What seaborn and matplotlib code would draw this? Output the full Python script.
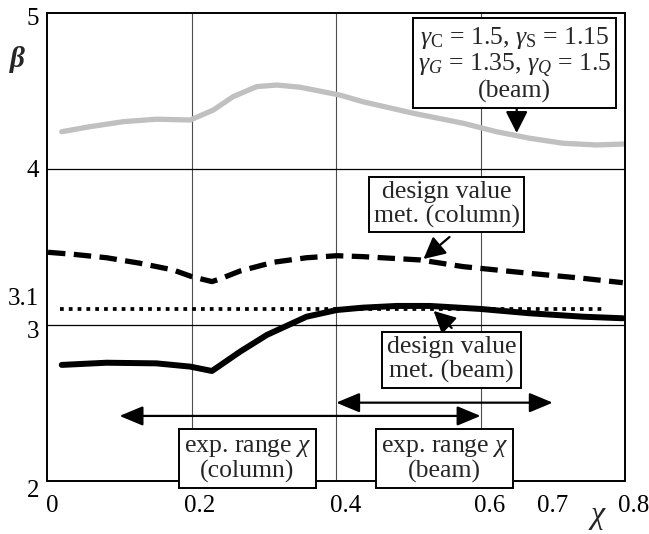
import matplotlib
matplotlib.use("Agg")
import matplotlib.pyplot as plt
import seaborn as sns
import pandas as pd
from matplotlib.transforms import ScaledTranslation

# ---- data ----
chi_gray = [0.020, 0.059, 0.105, 0.151, 0.198, 0.230, 0.257, 0.290, 0.318, 0.350,
            0.405, 0.437, 0.507, 0.576, 0.622, 0.668, 0.714, 0.760, 0.800]
beta_gray = [4.239, 4.271, 4.303, 4.319, 4.314, 4.378, 4.463, 4.528, 4.538, 4.524,
             4.474, 4.431, 4.357, 4.293, 4.239, 4.197, 4.165, 4.154, 4.160]

chi_col = [0.001, 0.036, 0.082, 0.128, 0.174, 0.200, 0.228, 0.239, 0.267, 0.313,
           0.359, 0.401, 0.437, 0.516, 0.576, 0.668, 0.742, 0.797]
beta_col = [3.466, 3.453, 3.431, 3.396, 3.353, 3.310, 3.278, 3.295, 3.346, 3.402,
            3.431, 3.444, 3.438, 3.417, 3.374, 3.331, 3.299, 3.271]

chi_beam = [0.020, 0.082, 0.151, 0.198, 0.228, 0.267, 0.304, 0.359, 0.401, 0.437,
            0.484, 0.530, 0.599, 0.668, 0.742, 0.797]
beta_beam = [2.744, 2.758, 2.754, 2.733, 2.705, 2.829, 2.936, 3.053, 3.096, 3.111,
             3.122, 3.122, 3.103, 3.075, 3.053, 3.043]

chi_target = [0.018, 0.772]
beta_target = [3.1, 3.1]

range_column = [0.1, 0.6]
range_beam = [0.4, 0.7]
range_column_beta = 2.417
range_beam_beta = 2.502

x_ticks = [0, 0.2, 0.4, 0.6, 0.7, 0.8]
x_tick_labels = ["0", "0.2", "0.4", "0.6", "0.7", "0.8"]
y_ticks = [2, 3, 3.1, 4, 5]
y_tick_labels = ["2", "3", "3.1", "4", "5"]
grid_x = [0.2, 0.4, 0.6]
grid_y = [3, 4]

# ---- style ----
sns.set_theme(style="white")
plt.rcParams["font.family"] = ["Liberation Serif", "DejaVu Serif"]
plt.rcParams["mathtext.fontset"] = "custom"
plt.rcParams["mathtext.rm"] = "Liberation Serif"
plt.rcParams["mathtext.it"] = "Liberation Serif:italic"
plt.rcParams["mathtext.bf"] = "Liberation Serif:bold"

fig = plt.figure(figsize=(6.49, 5.34), dpi=100)
ax = fig.add_axes([0.0729, 0.0993, 0.8901, 0.8764])

for gx in grid_x:
    ax.axvline(gx, color="0.3", lw=0.8, zorder=1)
for gy in grid_y:
    ax.axhline(gy, color="black", lw=0.9, zorder=1)

df_gray = pd.DataFrame({"chi": chi_gray, "beta": beta_gray})
df_col = pd.DataFrame({"chi": chi_col, "beta": beta_col})
df_beam = pd.DataFrame({"chi": chi_beam, "beta": beta_beam})
df_target = pd.DataFrame({"chi": chi_target, "beta": beta_target})

sns.lineplot(data=df_gray, x="chi", y="beta", ax=ax, color="#c0c0c0", lw=3.8,
             solid_capstyle="round", solid_joinstyle="round", zorder=2)
sns.lineplot(data=df_col, x="chi", y="beta", ax=ax, color="black", lw=3.8,
             linestyle=(0, (3.3, 1.6)), dash_capstyle="butt", zorder=2)
sns.lineplot(data=df_target, x="chi", y="beta", ax=ax, color="black", lw=2.7,
             linestyle=(0, (1.0, 1.35)), zorder=2)
sns.lineplot(data=df_beam, x="chi", y="beta", ax=ax, color="black", lw=4.3,
             solid_capstyle="round", solid_joinstyle="round", zorder=2)

ax.set_xlim(0, 0.8)
ax.set_ylim(2, 5)
ax.set_xlabel("")
ax.set_ylabel("")
ax.set_xticks(x_ticks)
ax.set_xticklabels(x_tick_labels)
ax.set_yticks(y_ticks)
ax.set_yticklabels(y_tick_labels)
ax.tick_params(axis="both", length=0, labelsize=18, colors="black")
ax.tick_params(axis="x", pad=10)
ax.tick_params(axis="y", pad=6)
for s in ax.spines.values():
    s.set_color("black")
    s.set_linewidth(1.4)
    s.set_visible(True)

# label offsets (px -> inch)
def shift(lbl, dx_px, dy_px):
    lbl.set_transform(lbl.get_transform() +
                      ScaledTranslation(dx_px / 100, dy_px / 100, fig.dpi_scale_trans))

for lbl, dx in zip(ax.get_xticklabels(), [5, 8, 9, 9, 0, 9]):
    shift(lbl, dx, 0)
for lbl, dy in zip(ax.get_yticklabels(), [-8, -5, 13, 0, -4]):
    shift(lbl, 0, dy)

fig.text(0.026, 0.888, "β", fontsize=21, fontstyle="italic", fontweight="bold",
         ha="center", va="center")
fig.text(0.921, 0.035, "χ", fontsize=23, fontstyle="italic",
         ha="center", va="center")

box = dict(boxstyle="square,pad=0.18", fc="white", ec="black", lw=1.4)
arrow = dict(arrowstyle="-|>,head_length=0.55,head_width=0.28", color="black",
             lw=1.6, mutation_scale=24, shrinkA=0, shrinkB=0)
darrow = dict(arrowstyle="<|-|>,head_length=0.6,head_width=0.25", color="black",
              lw=1.6, mutation_scale=24, shrinkA=0, shrinkB=0)

fs = 18.5
ax.text(0.647, 4.673,
        "$\\gamma_\\mathrm{C}$ = 1.5, $\\gamma_\\mathrm{S}$ = 1.15\n"
        "$\\gamma_G$ = 1.35, $\\gamma_Q$ = 1.5\n(beam)",
        fontsize=fs, ha="center", va="center", bbox=box, zorder=5, linespacing=1.05)
ax.annotate("", xy=(0.650, 4.231), xytext=(0.650, 4.385), arrowprops=arrow, zorder=4)

ax.text(0.553, 3.774, "design value\nmet. (column)", fontsize=fs, ha="center",
        va="center", bbox=box, zorder=5, linespacing=1.1)
ax.annotate("", xy=(0.521, 3.423), xytext=(0.557, 3.564), arrowprops=arrow, zorder=4)

ax.text(0.560, 2.777, "design value\nmet. (beam)", fontsize=fs, ha="center",
        va="center", bbox=box, zorder=5, linespacing=1.1)
ax.annotate("", xy=(0.535, 3.090), xytext=(0.560, 2.981), arrowprops=arrow, zorder=4)

ax.annotate("", xy=(range_column[0], range_column_beta),
            xytext=(range_column[1], range_column_beta), arrowprops=darrow, zorder=4)
ax.annotate("", xy=(range_beam[0], range_beam_beta),
            xytext=(range_beam[1], range_beam_beta), arrowprops=darrow, zorder=4)

ax.text(0.277, 2.138, "exp. range $\\chi$\n(column)", fontsize=fs, ha="center",
        va="center", bbox=box, zorder=5, linespacing=1.1, clip_on=False)
ax.text(0.550, 2.138, "exp. range $\\chi$\n(beam)", fontsize=fs, ha="center",
        va="center", bbox=box, zorder=5, linespacing=1.1, clip_on=False)

fig.savefig("out.png", dpi=100)
